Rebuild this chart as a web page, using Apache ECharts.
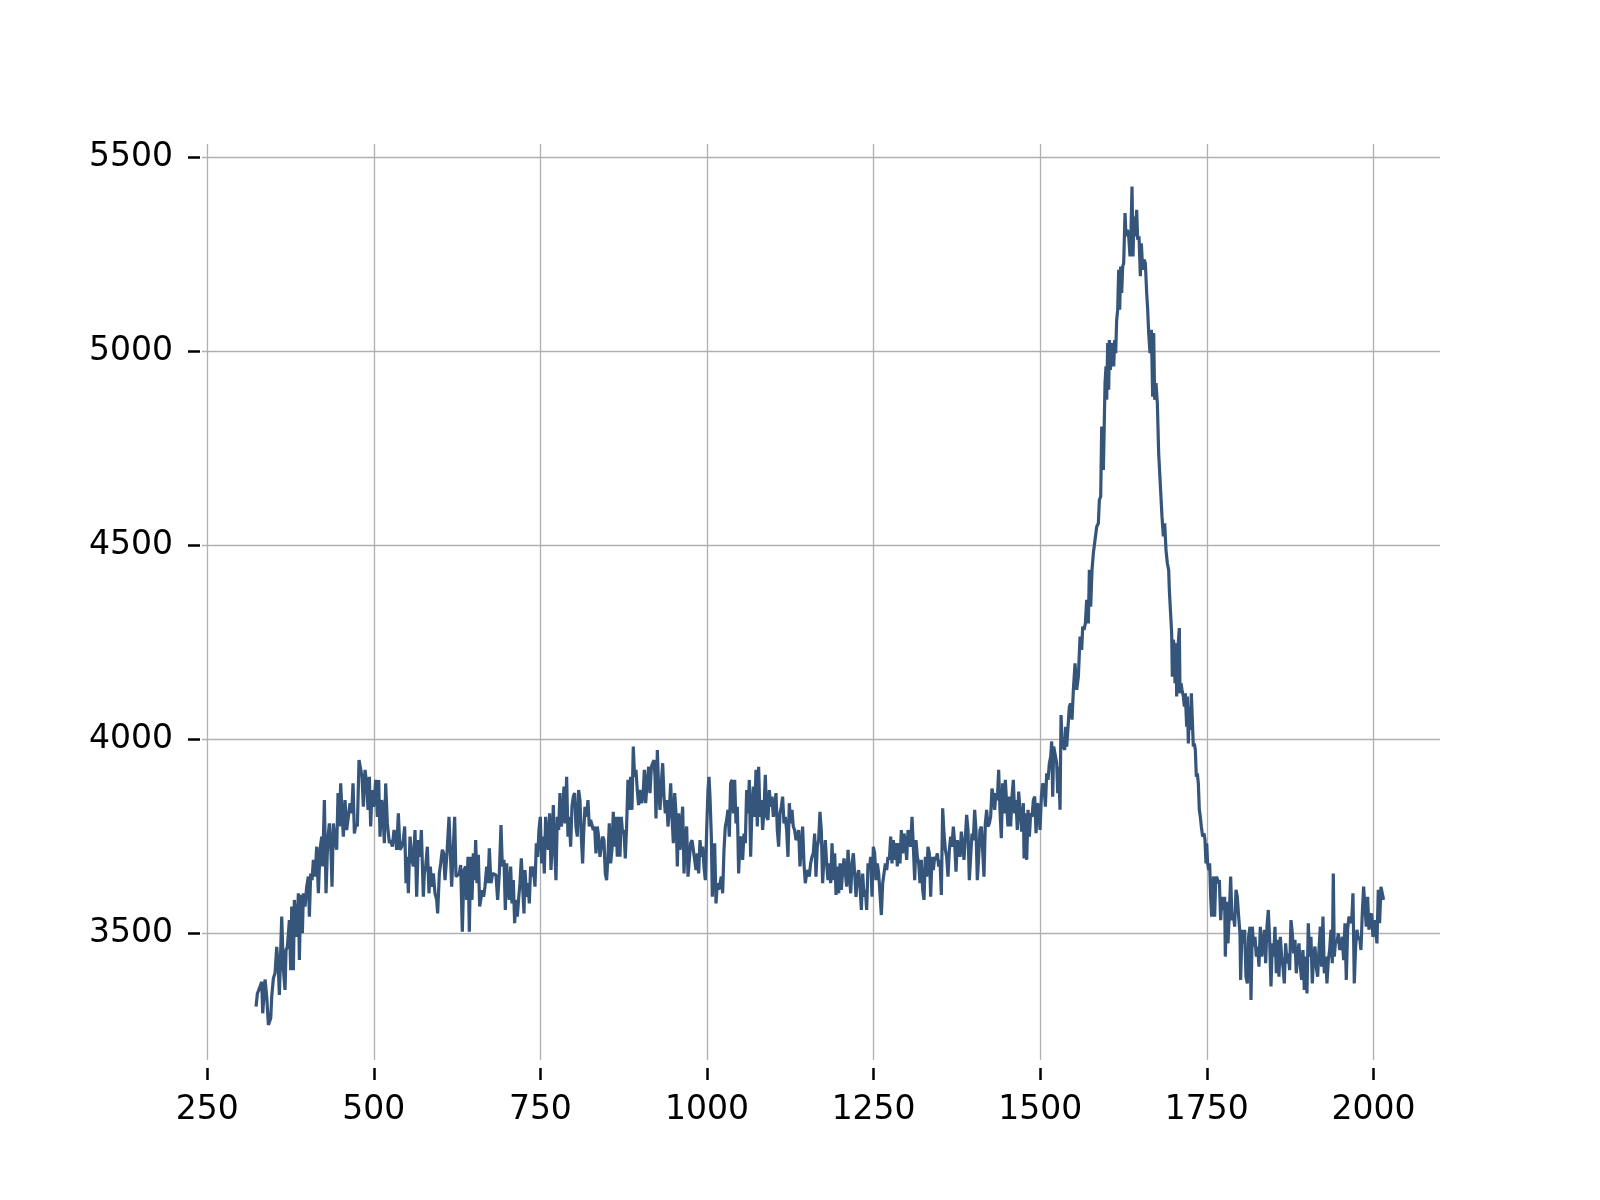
<!DOCTYPE html>
<html>
<head>
<meta charset="utf-8">
<script src="https://cdn.jsdelivr.net/npm/echarts@6/dist/echarts.min.js"></script>
<style>html,body{margin:0;padding:0;background:#fff}#c{width:1600px;height:1200px}</style>
</head>
<body>
<div id="c"></div>
<script>
const xTicks = [250, 500, 750, 1000, 1250, 1500, 1750, 2000];
const yTicks = [3500, 4000, 4500, 5000, 5500];

const xs = [
323.4,325.4,328.4,331.9,333.4,336.9,339.4,341.9,345.4,346.9,349.4,351.9,354.4,356.9,358.4,361.9,364.4,366.9,368.4,370.4,
373.4,375.4,376.9,379.4,380.9,384.4,386.9,388.4,390.4,392.9,394.4,396.9,399.4,401.9,403.4,405.4,407.4,409.4,411.9,414.4,
416.9,419.4,421.9,423.4,425.9,428.4,430.9,433.4,435.9,437.4,439.4,441.9,444.4,446.4,448.4,450.4,452.9,454.4,456.9,459.4,
461.9,464.4,466.9,468.9,470.9,473.4,475.4,477.9,480.4,482.4,484.4,486.9,489.4,491.4,493.4,495.4,497.4,499.4,500.9,502.9,
505.4,507.4,509.4,511.9,513.4,515.9,517.9,520.4,523.4,525.4,527.9,530.4,532.4,534.4,536.9,539.4,541.9,544.4,546.4,548.4,
550.4,551.9,554.4,557.4,559.4,561.9,564.4,566.9,569.4,571.4,574.4,575.9,577.9,580.4,582.9,584.9,586.9,589.4,591.9,594.4,
595.9,598.4,600.4,602.9,604.9,606.9,609.9,612.9,
615.4,616.9,619.4,621.4,623.4,625.4,628.4,630.4,632.9,635.4,637.9,639.4,641.4,643.4,645.4,647.4,649.4,651.4,652.9,654.9,
656.9,658.9,660.9,662.9,664.9,666.9,669.4,671.4,673.4,675.9,678.4,680.9,683.4,685.9,688.4,690.9,692.9,695.4,697.4,699.4,
701.4,703.4,705.4,707.4,709.4,711.4,713.4,715.4,717.4,719.4,721.4,723.4,725.4,726.9,729.4,731.4,733.4,735.4,737.4,739.4,
741.9,743.9,745.9,747.9,749.9,751.9,753.9,755.9,757.9,759.9,761.9,763.9,765.9,767.9,769.4,771.4,773.4,775.4,777.4,779.4,
781.4,783.4,785.4,787.4,789.4,791.4,793.4,795.4,797.4,799.4,801.4,803.4,805.4,807.4,809.4,811.4,813.4,814.9,816.9,819.4,
821.4,823.4,825.4,827.4,829.4,831.4,833.4,835.4,837.4,839.4,841.4,843.4,845.4,847.4,849.4,851.4,853.4,855.4,857.4,859.4,
861.4,863.4,865.4,867.4,869.4,871.4,873.4,875.4,877.4,879.4,881.4,883.4,885.4,887.4,889.4,891.4,893.4,895.4,897.4,899.4,
902,904,906,908,910.5,912.5,914.5,916.5,918.5,920.5,922,923.5,925.5,927.5,929.5,931.5,933.5,935.5,937.5,939.5,
941.5,943.5,945.5,947.5,949.5,951.5,953.5,955.5,957.5,959.5,961.5,963.5,965.5,967.5,969.5,971.5,973.5,975.5,977.5,979.5,
981.5,983.5,985.5,987.5,989.5,991.5,993.5,995.5,997.5,999.5,1001.5,1003,1004.5,1006.5,1008,1009.5,1011.5,1013.5,1015.5,1017.5,
1019.5,1021.5,1023.5,1025.5,1027.5,1029.5,1031.5,1033.5,1035.5,1037.5,1039.5,1041.5,1043.5,1045.5,1047.5,1049.5,1051.5,1053.5,1055.5,1057.5,
1059.5,1061.5,1063.5,1065.5,1067.5,1069.5,1071.5,1073.5,1075.5,1077.5,1079.5,1081.5,1083.5,1085.5,1087.5,1089.5,1091.5,1093.5,1095.5,1097.5,
1099.5,1101.5,1103.5,1105.5,1107.5,1109.5,1111.5,1113.5,1115.5,1117.5,1119.5,1121.5,1123.5,1125.5,1127.5,1129.5,1131.5,1133.5,1135.5,1137.5,
1139.5,1141.5,1143.5,1145.5,1147.5,1149.5,1151.5,1153.5,1155.5,1157.5,1159.5,1161.5,1163.5,1165.5,1167.5,1169.5,1171.5,1173.5,1175.5,1177.5,
1179.5,1181.5,1183.5,
1185.6,1187.6,1189.6,1191.6,1193.6,1195.6,1197.6,1199.6,1201.6,1203.6,1205.6,1207.6,1209.6,1211.6,1213.6,1215.6,1217.6,1219.6,1221.6,1223.6,
1225.6,1227.6,1229.6,1231.6,1233.6,1235.6,1237.6,1239.6,1241.6,1243.6,1245.6,1247.6,1249.6,1251.6,1253.6,1255.6,1257.6,1259.6,1261.6,1263.6,
1265.6,1267.6,1269.6,1271.6,1273.6,1275.6,1277.6,1279.6,1281.6,1283.6,1285.6,1287.6,1289.6,1291.6,1293.6,1295.6,1297.6,1299.6,1301.6,1303.6,
1305.6,1307.6,1309.6,1311.6,1313.6,1315.6,1317.6,1319.6,1321.6,1323.6,1325.6,1327.6,1329.6,1331.6,1333.6,1335.6,1337.6,1339.6,1341.6,1343.6,
1345.6,1347.6,1349.6,1351.6,1353.6,1355.6,1357.6,1359.6,1361.6,1363.6,1365.6,1367.6,1369.6,1371.6,1373.6,1375.6,1377.6,1379.6,1381.6,1383.6,
1385.6,1387.6,1389.6,1391.6,1393.6,1395.6,1397.6,1399.6,1401.6,1403.6,1405.6,1407.6,1409.6,1411.6,1413.6,1415.6,1417.6,1419.6,1421.6,1423.6,
1425.6,1427.6,1429.6,1431.6,1433.6,1435.6,1437.6,1439.6,1441.6,1443.6,1445.6,1447.6,1449.6,1451.6,1453.6,1455.6,1457.6,1459.6,1461.6,1463.6,
1465.6,1467.6,1469.6,
1472.2,1474.7,1475.7,1477.7,1479.7,1481.7,1483.7,1485.7,1487.7,1489.7,1491.7,1493.7,1495.7,1497.7,1499.7,1501.7,1503.7,1505.7,1507.7,1509.7,
1511.7,1513.7,1515.7,1517.2,1518.7,1520.2,1522.2,1524.7,1526.2,1527.7,1529.7,1531.2,1532.7,1534.7,1536.7,1538.2,1539.7,1541.7,1543.7,1545.7,
1547.7,1549.7,
1552.2,1554.7,1557.2,1559.7,1562.2,1563.7,1565.7,1567.7,1569.7,1572.2,1573.7,1575.7,1577.7,1579.7,1582.2,1584.7,1587.2,1588.7,1590.7,1592.2,
1594.7,1595.7,1597.2,1598.7,1599.7,1601.2,1602.7,1603.7,1605.2,1606.7,1608.7,1610.2,1611.7,1613.2,1614.7,1616.2,1617.7,1619.2,1620.7,1622.2,
1623.7,1625.2,1627.2,1628.7,1630.7,1632.7,1634.7,1636.2,1637.7,1639.2,1640.7,1642.7,1644.7,1646.2,1648.2,1650.2,1651.7,1653.7,1655.7,1657.7,
1659.7,1661.2,1662.7,1664.7,1666.7,1668.7,1670.2,1671.7,1673.7,1675.7,1677.7,1680.7,1682.7,1684.7,1686.7,1688.7,1690.7,1692.7,
1693.7,1695.7,1697.2,1698.2,1699.7,1701.2,1702.2,1703.7,1704.7,1706.7,1708.7,1709.7,1711.2,1712.7,1714.7,1716.2,1717.7,1719.7,1720.7,1722.2,
1723.7,1725.2,1726.7,1728.2,1729.7,1731.2,1732.7,1734.2,1735.7,1737.2,1738.7,1740.2,1741.7,1743.7,1745.7,1747.2,1748.7,1749.7,1751.2,1752.7,
1754.2,1755.7,1757.2,1758.7,1760.2,1761.7,1763.2,1764.7,1767.2,
1768.7,1770.7,1772.7,1774.7,1776.7,1777.7,1779.7,1781.7,1783.7,1785.7,1787.7,1789.7,1791.7,1793.7,1795.7,1797.7,1799.7,1800.7,1802.7,1804.7,
1806.7,1808.7,1810.7,1812.7,1814.7,1816.2,1818.2,1820.2,1822.2,1824.2,1826.2,1828.2,1830.2,1832.2,1834.2,1836.2,1838.2,1840.2,1842.2,1844.2,
1846.2,1848.2,1850.2,1852.2,1854.2,1856.2,1858.2,1860.2,1862.2,1864.2,1866.2,1868.2,1870.2,1872.2,1874.2,1876.2,1878.2,1880.2,1882.2,1884.2,
1886.2,1888.2,1890.2,1892.2,1894.2,1896.2,1898.2,1900.2,1902.2,1904.2,1906.2,1908.2,1910.2,1912.2,1914.2,1916.2,1918.2,1920.2,1922.2,1924.2,
1926.2,1928.2,1930.2,1932.2,1934.2,1936.2,1938.2,1939.7,1941.2,1943.2,1945.2,1947.2,1949.2,1951.2,1953.2,1955.2,1957.2,1959.2,1961.2,1963.2,
1965.2,1967.2,1969.2,1971.2,1973.2,1975.2,1977.2,1979.2,1981.2,1983.2,1985.2,1987.2,1989.2,1991.2,1993.2,1995.2,1997.2,1999.2,2001.2,2003.2,
2005.2,2007.2,2009.2,2011.2,2013.2,2015.2
];

const ys = [
3312,3346,3359,3376,3295,3382,3338,3265,3282,3338,3385,3398,3466,3406,3342,3544,3406,3355,3458,3466,
3535,3406,3570,3406,3587,3492,3604,3432,3600,3501,3604,3570,3621,3647,3544,3655,3638,3690,3647,3724,
3604,3716,3750,3673,3844,3604,3741,3784,3707,3621,3784,3741,3716,3862,3776,3887,3793,3750,3844,3767,
3801,3836,3810,3887,3758,3784,3776,3947,3947,3904,3827,3922,3887,3819,3904,3776,3870,3827,3844,3896,
3801,3896,3750,3844,3827,3733,3887,3784,3733,3741,3724,3767,3750,3716,3810,3716,3724,3741,3776,3630,
3698,3604,3750,3690,3673,3767,3595,3741,3698,3767,3595,3655,3673,3724,3604,3673,3621,3655,3604,3587,
3552,3655,3681,3716,3707,3638,3707,3801,
3801,3621,3724,3801,3647,3647,3655,3677,3505,3664,3673,3587,3698,3505,3698,3587,3707,3638,3741,3630,
3703,3570,3565,3612,3595,3621,3673,3630,3720,3630,3655,3655,3651,3587,3655,3780,3673,3690,3561,3681,
3612,3587,3673,3578,3638,3527,3587,3544,3591,3630,3694,3621,3552,3664,3595,3630,3578,3673,3647,3673,
3621,3733,3698,3767,3801,3681,3750,3655,3801,3750,3716,3810,3664,3733,3831,3724,3638,3801,3767,3862,
3776,3801,3879,3784,3904,3750,3801,3724,3827,3853,3862,3776,3750,3870,3844,3750,3681,3758,3827,3801,
3844,3776,3793,3793,3767,3776,3707,3776,3750,3698,3724,3750,3741,3655,3638,3698,3784,3681,3716,3814,
3724,3801,3698,3801,3698,3801,3758,3767,3694,3776,3896,3819,3904,3819,3982,3904,3922,3870,3831,3870,
3836,3853,3922,3836,3896,3930,3862,3930,3939,3947,3904,3797,3973,3870,3819,3887,3939,3853,3810,3844,
3776,3819,3887,3801,3733,3862,3810,3673,3810,3716,3776,3827,3655,3741,3776,3647,3690,3733,3741,3716,
3690,3664,3707,3655,3741,3698,3724,3673,3638,3767,3870,3904,3853,3750,3595,3664,3733,3578,3630,3613,
3613,3647,3604,3716,3776,3793,3819,3750,3887,3896,3810,3896,3784,3827,3655,3741,3750,3690,3758,3733,
3870,3810,3896,3698,3827,3879,3801,3922,3776,3930,3801,3844,3767,3819,3909,3801,3793,3870,3827,3853,
3801,3827,3862,3767,3724,3810,3827,3853,3784,3801,3767,3698,3836,3784,3819,3776,3767,3741,3750,3767,
3673,3724,3776,3681,3630,3655,3664,3647,3681,3698,3707,3758,3647,3724,3741,3814,3767,3630,3698,3741,
3681,3638,3681,
3630,3733,3638,3707,3600,3673,3604,3681,3613,3664,3694,3655,3621,3716,3655,3604,3681,3707,3655,3595,
3647,3664,3621,3561,3655,3595,3613,3561,3681,3664,3698,3595,3724,3707,3638,3681,3655,3655,3548,3630,
3630,3681,3664,3698,3690,3750,3681,3741,3690,3733,3673,3733,3681,3767,3707,3758,3733,3690,3767,3767,
3724,3801,3724,3638,3741,3698,3681,3630,3690,3613,3587,3698,3647,3724,3707,3595,3698,3664,3698,3690,
3707,3673,3690,3600,3823,3758,3716,3698,3647,3716,3750,3724,3776,3733,3660,3741,3716,3698,3763,3767,
3690,3690,3806,3767,3638,3698,3758,3741,3819,3767,3638,3698,3767,3776,3716,3647,3784,3819,3776,3784,
3801,3874,3853,3819,3862,3844,3922,3819,3746,3887,3810,3896,3836,3776,3853,3776,3853,3896,3810,3844,
3767,3866,3870,
3763,3836,3694,3810,3690,3819,3750,3810,3801,3844,3853,3759,3836,3827,3767,3853,3887,3879,3827,3913,
3896,3939,3956,3995,3853,3982,3982,3939,3862,3930,3819,4063,3999,3982,3973,4033,3982,3982,4085,4093,
4051,4128,
4196,4128,4162,4265,4231,4291,4282,4299,4360,4299,4437,4342,4437,4480,4514,4548,4557,4617,4626,4806,
4694,4780,4918,4961,4875,5021,4901,5029,4952,4995,5021,4961,5029,4995,5081,5107,5210,5107,5218,5150,
5218,5227,5356,5296,5313,5296,5244,5313,5424,5244,5347,5296,5364,5287,5296,5193,5278,5210,5236,5227,
5150,5107,5047,4995,5055,4883,5047,4875,4918,4866,4737,4737,4574,4523,4557,4488,4454,4437,
4385,4385,4274,4162,4257,4239,4145,4248,4111,4239,4287,4119,4145,4128,4111,4085,4119,4033,4111,3990,
4085,4025,4119,4119,3982,3990,3973,3904,3913,3887,3819,3801,3776,3750,3758,3741,3681,3733,3681,3664,
3681,3595,3544,3630,3647,3544,3638,3647,3630,
3638,3535,3595,3561,3595,3441,3582,3475,3552,3647,3535,3552,3518,3613,3595,3544,3501,3381,3510,3475,
3510,3389,3372,3492,3518,3329,3518,3467,3492,3441,3467,3415,3518,3441,3467,3510,3424,3518,3561,3484,
3364,3475,3441,3518,3398,3484,3389,3492,3441,3415,3372,3475,3424,3449,3406,3535,3501,3449,3484,3398,
3449,3475,3415,3381,3458,3355,3441,3346,3527,3441,3492,3372,3441,3467,3415,3389,3458,3518,3415,3544,
3398,3441,3372,3432,3458,3510,3424,3655,3441,3484,3475,3501,3458,3467,3492,3432,3527,3381,3510,3544,
3544,3527,3604,3372,3467,3510,3484,3492,3458,3552,3621,3570,3518,3595,3510,3544,3552,3492,3535,3510,
3475,3613,3527,3621,3604,3587
];

const data = xs.map((x, i) => [x, ys[i]]);

const chart = echarts.init(document.getElementById('c'), null, {renderer: 'canvas'});
const font = 'DejaVu Sans';
const plain = v => String(v);
chart.setOption({
  animation: false,
  backgroundColor: '#ffffff',
  grid: {left: 202, right: 160, top: 144, bottom: 140, containLabel: false},
  xAxis: {
    type: 'value',
    min: 242.3,
    max: 2099.8,
    offset: 8,
    axisLine: {show: false},
    axisTick: {show: true, length: 12, lineStyle: {color: '#000', width: 2.5}, customValues: xTicks},
    axisLabel: {show: true, customValues: xTicks, formatter: plain, margin: 26, color: '#000', fontSize: 33, fontFamily: font},
    splitLine: {show: true, lineStyle: {color: '#b0b0b0', width: 1.3}}
  },
  yAxis: {
    type: 'value',
    min: 3174.7,
    max: 5533.7,
    offset: 2,
    axisLine: {show: false},
    axisTick: {show: true, length: 12, lineStyle: {color: '#000', width: 2.5}, customValues: yTicks},
    axisLabel: {show: true, customValues: yTicks, formatter: plain, margin: 27, color: '#000', fontSize: 33, fontFamily: font},
    splitLine: {show: true, lineStyle: {color: '#b0b0b0', width: 1.3}}
  },
  series: [{
    type: 'line',
    data: data,
    showSymbol: false,
    symbol: 'none',
    lineStyle: {color: '#36557b', width: 3.2},
    z: 3
  }]
});
</script>
</body>
</html>
